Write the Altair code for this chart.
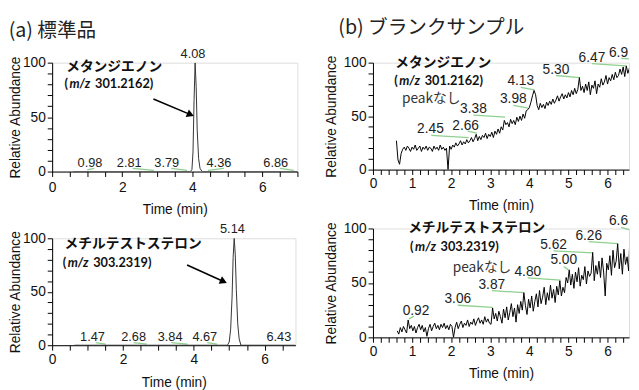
import altair as alt
import pandas as pd

FONT = "Liberation Sans"
JP = "Noto Sans CJK JP"
MZF = "Lato"
GREEN = "#8fd08f"

# ---------------- (a) 標準品 : メタンジエノン m/z 301.2162 ----------------
a1_t = [0.60, 3.95, 3.99, 4.02, 4.05, 4.08, 4.11, 4.14, 4.18, 4.22, 4.28, 7.00]
a1_v = [0, 0, 2, 18, 65, 100, 78, 38, 12, 3, 0, 0]
a1_lab = ["0.98", "2.81", "3.79", "4.08", "4.36", "6.86"]
a1_lab_t = [1.08, 2.20, 3.27, 4.02, 4.76, 6.38]
a1_lab_v = [4, 4, 4, 104, 4, 4]
a1_s_t1 = [1.00, 2.30, 3.40, 4.45, 6.50]
a1_s_v1 = [1.5, 3, 3, 1, 3]
a1_s_t2 = [1.20, 2.90, 3.85, 4.90, 6.90]
a1_s_v2 = [3, 1, 1, 3, 1]

# ---------------- (a) 標準品 : メチルテストステロン m/z 303.2319 ----------------
a2_t = [0.63, 4.95, 5.00, 5.04, 5.08, 5.11, 5.14, 5.17, 5.20, 5.24, 5.28, 5.33, 6.87]
a2_v = [0, 0, 3, 15, 45, 82, 100, 85, 52, 20, 6, 0, 0]
a2_lab = ["1.47", "2.68", "3.84", "4.67", "5.14", "6.43"]
a2_lab_t = [1.14, 2.30, 3.33, 4.31, 5.09, 6.40]
a2_lab_v = [3.7, 3.7, 3.7, 3.7, 105, 3.7]
a2_s_t1 = [1.23, 2.30, 3.36, 4.38]
a2_s_v1 = [2.5, 2.5, 2.5, 2.5]
a2_s_t2 = [1.51, 2.67, 3.82, 4.66]
a2_s_v2 = [1, 1, 1, 1]

# ---------------- (b) ブランクサンプル : メタンジエノン ----------------
b1_start, b1_step = 0.60, 0.04
b1_v = [27, 9, 5, 15, 19, 21, 18, 22, 20, 17,
        21, 19, 23, 18, 20, 22, 17, 21, 19, 22,
        18, 21, 20, 17, 22, 19, 21, 18, 23, 19,
        21, 18, 20, 0, 22, 19, 23, 21, 25, 22,
        24, 27, 23, 26, 24, 28, 25, 27, 30, 26,
        29, 33, 27, 31, 28, 32, 30, 34, 29, 33,
        31, 35, 30, 36, 33, 38, 34, 40, 37, 46,
        42, 44, 40, 47, 43, 46, 42, 49, 45, 50,
        46, 52, 48, 55, 56, 58, 63, 69, 74, 70,
        60, 56, 62, 58, 61, 57, 63, 60, 64, 61,
        66, 62, 65, 69, 64, 68, 71, 66, 70, 67,
        72, 68, 74, 70, 76, 71, 75, 86, 74, 78,
        72, 80, 74, 82, 70, 79, 76, 83, 71, 80,
        77, 85, 79, 82, 88, 80, 86, 83, 89, 84,
        91, 86, 88, 94, 89, 96, 87, 97, 90, 95, 92]
b1_lab = ["2.45", "2.66", "3.38", "3.98", "4.13", "5.30", "6.47", "6.9"]
b1_lab_t = [1.47, 2.37, 2.57, 3.59, 3.78, 4.68, 5.60, 6.28]
b1_lab_v = [34, 37, 52.6, 62, 79, 89.6, 101, 105.5]
b1_s_t1 = [1.49, 2.42, 2.57, 3.59, 3.78, 4.68, 5.60, 6.35]
b1_s_v1 = [32, 36, 51, 60, 77, 88, 99, 104]
b1_s_t2 = [2.45, 2.66, 3.38, 3.98, 4.13, 5.30, 6.47, 6.55]
b1_s_v2 = [30, 34, 49, 57.5, 74.5, 86, 97, 103.5]

# ---------------- (b) ブランクサンプル : メチルテストステロン ----------------
b2_start, b2_step = 0.62, 0.04
b2_v = [6, 3, 9, 5, 10, 7, 4, 16, 8, 11,
        6, 10, 4, 9, 12, 7, 11, 5, 9, 1,
        8, 12, 6, 10, 13, 8, 11, 7, 12, 9,
        13, 8, 11, 7, 12, 10, 0, 9, 14, 8,
        12, 15, 9, 13, 11, 16, 10, 14, 12, 17,
        11, 15, 18, 13, 16, 12, 19, 14, 17, 13,
        12, 27, 17, 22, 15, 24, 19, 13, 26, 18,
        28, 16, 23, 31, 19, 27, 14, 30, 22, 33,
        25, 41, 29, 21, 35, 27, 38, 24, 33, 40,
        28, 43, 31, 37, 46, 30, 41, 34, 48, 36,
        44, 32, 47, 39, 52, 38, 46, 41, 55, 50,
        62, 48, 58, 45, 60, 51, 64, 47, 57, 53,
        65, 49, 61, 56, 59, 78, 52, 66, 58, 70,
        55, 73, 60, 38, 68, 62, 75, 57, 80, 64,
        70, 86, 63, 77, 58, 81, 67, 74, 61, 100]
b2_lab = ["0.92", "3.06", "3.87", "4.80", "5.00", "5.62", "6.26", "6.6"]
b2_lab_t = [1.10, 2.17, 3.04, 3.96, 4.88, 4.62, 5.52, 6.28]
b2_lab_v = [20.9, 31.5, 44.5, 56.7, 67, 81.5, 89.7, 103]
b2_s_t1 = [1.05, 2.17, 3.04, 3.96, 4.88, 4.62, 5.52, 6.35]
b2_s_v1 = [19.5, 29.5, 43, 54.7, 65, 79.5, 88, 101]
b2_s_t2 = [0.92, 3.06, 3.87, 4.80, 5.00, 5.62, 6.26, 6.55]
b2_s_v2 = [17, 27.5, 41, 52.6, 62, 77.5, 86, 99]

# axis ticks
ticks_a1 = [0, 0.5, 1, 1.5, 2, 2.5, 3, 3.5, 4, 4.5, 5, 5.5, 6, 6.5, 7]
ticks_a2 = [0, 0.5, 1, 1.5, 2, 2.5, 3, 3.5, 4, 4.5, 5, 5.5, 6, 6.5]
ticks_b = [0, 0.2, 0.4, 0.6, 0.8, 1, 1.2, 1.4, 1.6, 1.8, 2, 2.2, 2.4, 2.6, 2.8, 3,
           3.2, 3.4, 3.6, 3.8, 4, 4.2, 4.4, 4.6, 4.8, 5, 5.2, 5.4, 5.6, 5.8, 6,
           6.2, 6.4]
ticks_y = [0, 10, 20, 30, 40, 50, 60, 70, 80, 90, 100]


def panel(tr_t, tr_v, lab, lab_t, lab_v, s1t, s1v, s2t, s2v, xmax, xticks, major,
          w, h, name, name_t, name_v, mz, mz_t, mz_v, none=None, arrow=None,
          labsize=14, line_color="black", title=None, title_dx=0, ytp=3, xlp=2):
    xs = alt.Scale(domain=[0, xmax], nice=False, zero=False)
    ys = alt.Scale(domain=[0, 100], nice=False, zero=False)
    xax = alt.Axis(values=xticks,
                   labelExpr=f"datum.value % {major} === 0 ? '' + datum.value : ''",
                   title="Time (min)", grid=False, tickSize=5, tickColor="black",
                   domainColor="black", labelFont=FONT, labelFontSize=14, labelColor="#111",
                   titleFont=FONT, titleFontSize=14, titleFontWeight="normal",
                   titleColor="#111", labelFlush=False, labelOverlap=False,
                   labelPadding=xlp, titlePadding=9)
    yax = alt.Axis(values=ticks_y,
                   labelExpr="datum.value % 50 === 0 ? '' + datum.value : ''",
                   title="Relative Abundance", grid=False, tickSize=5, tickColor="black",
                   domainColor="black", labelFont=FONT, labelFontSize=14, labelColor="#111",
                   titleFont=FONT, titleFontSize=14, titleFontWeight="normal",
                   titleColor="#111", labelOverlap=False, labelPadding=2, titlePadding=ytp)
    X = lambda f: alt.X(f, type="quantitative", scale=xs, axis=xax)
    Y = lambda f: alt.Y(f, type="quantitative", scale=ys, axis=yax)

    tr = pd.DataFrame({"t": tr_t, "v": tr_v})
    labs = pd.DataFrame({"t": lab_t, "v": lab_v, "lab": lab})
    segs = pd.DataFrame({"t": s1t, "v": s1v, "t2": s2t, "v2": s2v})

    layers = []
    layers.append(alt.Chart(segs).mark_rule(color=GREEN, strokeWidth=1.3).encode(
        x=X("t"), y=Y("v"), x2="t2", y2="v2"))
    layers.append(alt.Chart(tr).mark_line(color=line_color, strokeWidth=1, clip=True).encode(
        x=X("t"), y=Y("v")))
    layers.append(alt.Chart(labs).mark_text(font=FONT, fontSize=labsize, color="#222",
                                            baseline="alphabetic", align="center").encode(
        x=X("t"), y=Y("v"), text="lab:N"))
    nm = pd.DataFrame({"t": [name_t], "v": [name_v], "s": [name]})
    layers.append(alt.Chart(nm).mark_text(font=JP, fontSize=14, fontWeight="bold", color="#111",
                                          align="left", baseline="alphabetic").encode(
        x=X("t"), y=Y("v"), text="s:N"))
    mzd = pd.DataFrame({"t": [mz_t], "v": [mz_v]})
    for txt, dx, style in [("(", 0, "normal"), ("m/z", 5, "italic"), (mz + ")", 31, "normal")]:
        layers.append(alt.Chart(mzd).mark_text(font=MZF, fontSize=13, fontWeight="bold",
                                               fontStyle=style, color="#111", align="left",
                                               baseline="alphabetic", dx=dx).encode(
            x=X("t"), y=Y("v"), text=alt.value(txt)))
    if none is not None:
        nd = pd.DataFrame({"t": [none[0]], "v": [none[1]], "s": ["peakなし"]})
        layers.append(alt.Chart(nd).mark_text(font=JP, fontSize=14, color="#333",
                                              align="left", baseline="alphabetic").encode(
            x=X("t"), y=Y("v"), text="s:N"))
    if arrow is not None:
        ad = pd.DataFrame({"t": [arrow[0]], "v": [arrow[1]], "t2": [arrow[2]], "v2": [arrow[3]]})
        layers.append(alt.Chart(ad).mark_rule(color="black", strokeWidth=1.6).encode(
            x=X("t"), y=Y("v"), x2="t2", y2="v2"))
        layers.append(alt.Chart(ad).mark_point(shape="triangle-right", filled=True, color="black",
                                               size=70, opacity=1, angle=arrow[4]).encode(
            x=X("t2"), y=Y("v2")))
    ch = alt.layer(*layers).properties(width=w, height=h)
    if title is not None:
        ch = ch.properties(title=alt.TitleParams(text=title, anchor="start", font=JP, fontSize=20,
                                                 fontWeight="normal", color="#222", dx=title_dx,
                                                 offset=8))
    return ch


def grid(start, step, n):
    return [round(start + step * i, 2) for i in range(n)]


TL = panel(a1_t, a1_v, a1_lab, a1_lab_t, a1_lab_v, a1_s_t1, a1_s_v1, a1_s_t2, a1_s_v2,
           7.0, ticks_a1, 2, 250, 111, "メタンジエノン", 0.40, 92.5, "301.2162", 0.355, 76.6,
           arrow=(2.89, 66.7, 3.95, 52.3, 23), labsize=13, line_color="#333",
           title="(a) 標準品", title_dx=0, ytp=0, xlp=4)
BL = panel(a2_t, a2_v, a2_lab, a2_lab_t, a2_lab_v, a2_s_t1, a2_s_v1, a2_s_t2, a2_s_v2,
           6.87, ticks_a2, 2, 248, 109, "メチルテストステロン", 0.35, 90.8, "303.2319", 0.30, 73,
           arrow=(3.81, 75, 4.84, 59.6, 24), labsize=13, line_color="#333", ytp=0, xlp=3)
TR = panel(grid(b1_start, b1_step, len(b1_v)), b1_v, b1_lab, b1_lab_t, b1_lab_v,
           b1_s_t1, b1_s_v1, b1_s_t2, b1_s_v2, 6.55, ticks_b, 1, 261, 109,
           "メタンジエノン", 0.57, 96, "301.2162", 0.545, 79.5, none=(0.74, 62),
           title="(b) ブランクサンプル", title_dx=14, ytp=5)
BR = panel(grid(b2_start, b2_step, len(b2_v)), b2_v, b2_lab, b2_lab_t, b2_lab_v,
           b2_s_t1, b2_s_v1, b2_s_t2, b2_s_v2, 6.55, ticks_b, 1, 261, 111,
           "メチルテストステロン", 0.90, 96.7, "303.2319", 0.95, 79, none=(2.04, 60), ytp=5)

left = alt.vconcat(TL, BL, spacing=5)
right = alt.vconcat(TR, BR, spacing=0)
chart = alt.hconcat(left, right, spacing=26).properties(
    padding={"left": 0, "top": 6, "right": 0, "bottom": 0}
).configure_view(stroke=None).configure(background="white")

chart.save("out.html", embed_options={"renderer": "svg", "actions": False})
